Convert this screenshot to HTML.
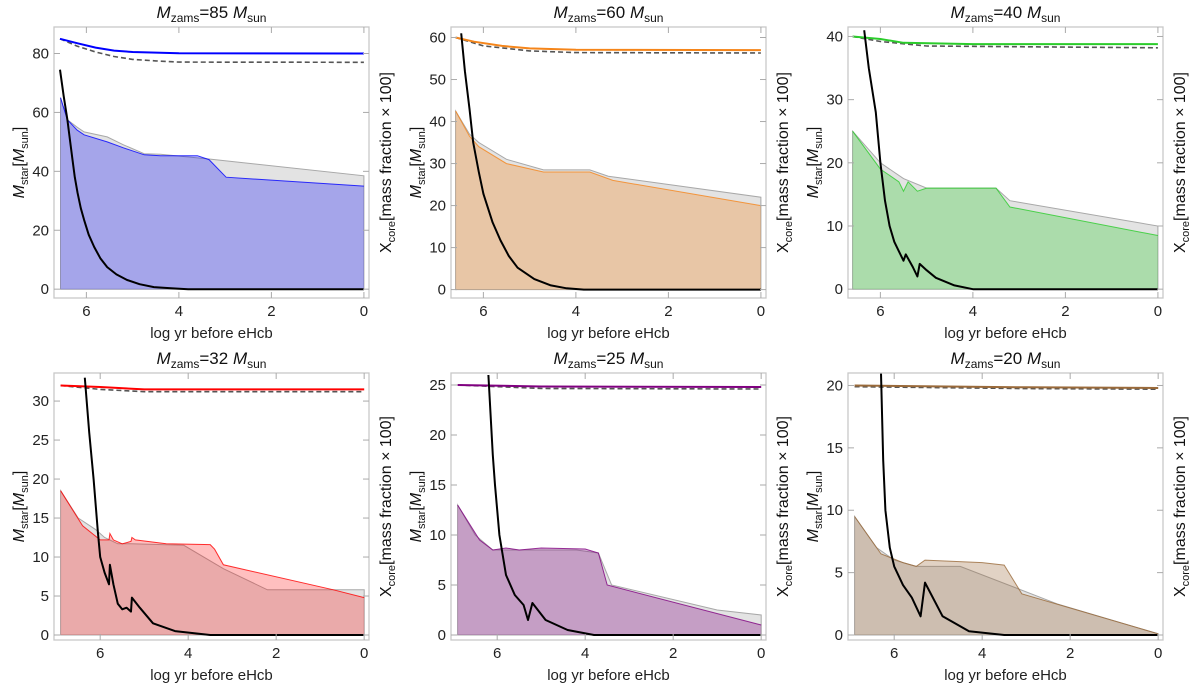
<!DOCTYPE html>
<html><head><meta charset="utf-8"><style>
body{margin:0;background:#fff;}
svg{display:block;font-family:"Liberation Sans",sans-serif;}
</style></head><body>
<svg id="fig" width="1200" height="692" viewBox="0 0 1200 692"></svg>
<script>
// Panel metadata
const titles = ["85","60","40","32","25","20"];
const xStart = [6.7,6.7,6.7,7.05,7.05,7.05];
const yMax = [89,62.5,41.5,33.6,26.2,21];
const yMin = [-3,-2,-1.4,-0.64,-0.5,-0.4];
const yTicks = [[0,20,40,60,80],[0,10,20,30,40,50,60],[0,10,20,30,40],[0,5,10,15,20,25,30],[0,5,10,15,20,25],[0,5,10,15,20]];
const xTicks = [6,4,2,0];
const lineColors = ["#0000ff","#f5851a","#2bcc2b","#ff0000","#800080","#9a6a3a"];
const fillOpacity = [0.27,0.3,0.3,0.25,0.3,0.3];
// Series: [x,y] pairs per panel
const topLine = [
 [[6.57,85],[6.2,83.5],[5.8,82],[5.4,81],[5,80.5],[4,80.1],[0,80]],
 [[6.6,60],[6.2,59],[5.6,58],[5,57.4],[4,57.1],[0,57]],
 [[6.6,40],[6,39.6],[5.5,39],[4,38.8],[0,38.8]],
 [[6.9,32],[6,31.8],[5,31.5],[0,31.5]],
 [[6.9,25],[5,24.85],[0,24.8]],
 [[6.9,20],[3,19.85],[0,19.8]]
];
const dashLine = [
 [[6.57,85],[6.2,82.5],[5.8,80.5],[5.4,79],[5,78],[4.5,77.5],[4,77.1],[0,77]],
 [[6.6,60],[6,58],[5,56.8],[4,56.4],[0,56.3]],
 [[6.6,40],[6,39.2],[5,38.5],[0,38.2]],
 [[6.9,32],[6,31.5],[5,31.2],[0,31.2]],
 [[6.9,25],[5,24.65],[0,24.6]],
 [[6.9,19.9],[3,19.75],[0,19.7]]
];
const greyFill = [
 [[6.56,65],[6.41,57.5],[6.2,55],[6.05,53.4],[5.55,51.7],[5.2,49],[4.75,46],[4.4,45.8],[3.35,44.2],[0,38.5]],
 [[6.6,42.5],[6.3,37],[6.1,35],[5.5,31],[4.7,28.5],[3.7,28.5],[3.3,27],[0,22]],
 [[6.6,25],[6.0,20],[5.5,17.5],[5.0,16],[3.5,16],[3.2,14],[0,10]],
 [[6.9,18.5],[6.5,15],[6.1,13.5],[5.9,12.5],[5.6,11.7],[5.3,11.7],[4.1,11.5],[3.2,8.5],[2.2,5.8],[0,5.8]],
 [[6.9,13],[6.5,10],[6.1,8.5],[4.2,8.5],[3.7,8.2],[3.4,5],[1,2.5],[0,2]],
 [[6.9,9.5],[6.4,7],[6.0,6],[5.5,5.5],[4.5,5.5],[2.3,2.5],[0,0.1]]
];
const colorFill = [
 [[6.56,65],[6.41,57.5],[6.2,54],[6.05,52.4],[5.55,50],[5.2,48],[4.75,45.6],[4.4,45.3],[3.6,45.3],[3.35,44],[2.98,38],[0,35]],
 [[6.6,42.5],[6.3,36.5],[6.1,34],[5.5,30],[4.7,28],[3.7,28],[3.2,26],[0,20]],
 [[6.6,25],[6.0,19],[5.6,17],[5.5,15.5],[5.4,17],[5.2,15.5],[5.0,16],[3.5,16],[3.2,13],[0,8.5]],
 [[6.9,18.5],[6.4,14],[6.0,12.2],[5.8,12.2],[5.78,13],[5.7,12.2],[5.5,11.7],[5.3,12],[5.28,12.5],[5.2,12.2],[4.5,11.7],[3.5,11.6],[3.4,11],[3.2,9],[0.7,5.8],[0,4.8]],
 [[6.9,13],[6.4,9.5],[6.1,8.5],[5.8,8.7],[5.5,8.5],[5.0,8.7],[4.0,8.6],[3.7,8.2],[3.5,5],[0,1]],
 [[6.9,9.5],[6.3,6.5],[5.8,5.8],[5.5,5.5],[5.3,6],[4.0,5.8],[3.5,5.6],[3.1,3.3],[0,0.1]]
];
const xcore = [
 [[6.57,74.5],[6.49,65.5],[6.41,57.5],[6.35,50],[6.30,43.9],[6.25,38],[6.19,32.6],[6.12,27.5],[6.05,23.5],[5.95,18.5],[5.83,14.3],[5.7,10.5],[5.55,7.5],[5.35,5],[5.12,3.1],[4.85,1.7],[4.54,0.7],[4.17,0.3],[3.8,0],[0,0]],
 [[6.48,61],[6.4,52],[6.3,43],[6.22,35],[6.1,28],[6.0,22.8],[5.8,16],[5.63,11.7],[5.45,8],[5.26,5.2],[4.9,2.5],[4.54,1],[4.2,0.3],[3.83,0],[0,0]],
 [[6.35,41],[6.25,35],[6.1,28],[6.0,20],[5.9,14],[5.8,10],[5.7,7.5],[5.6,6],[5.5,4.5],[5.45,5.5],[5.3,3.5],[5.2,2],[5.15,4],[5.0,3],[4.8,1.8],[4.4,0.6],[4.0,0],[0,0]],
 [[6.35,33],[6.25,26],[6.15,20],[6.05,13],[6.0,10],[5.9,8],[5.8,6.5],[5.78,9],[5.7,6.5],[5.6,4],[5.5,3.3],[5.4,3.5],[5.3,3],[5.28,4.8],[5.1,3.5],[4.8,1.5],[4.3,0.5],[3.5,0],[0,0]],
 [[6.2,26],[6.1,18],[6.05,15],[5.95,10],[5.8,6],[5.6,4],[5.4,3],[5.3,1.5],[5.2,3.2],[4.9,1.5],[4.4,0.5],[3.8,0],[0,0]],
 [[6.3,21],[6.25,14],[6.2,10],[6.1,7],[6.0,5.5],[5.8,4],[5.6,3],[5.4,1.5],[5.3,4.2],[4.9,1.5],[4.3,0.3],[3.5,0],[0,0]]
];

const NS="http://www.w3.org/2000/svg";
const svg=document.getElementById('fig');
function mk(tag,attrs,parent){const e=document.createElementNS(NS,tag);for(const k in attrs)e.setAttribute(k,attrs[k]);(parent||svg).appendChild(e);return e;}

for(let p=0;p<6;p++){
  const col=p%3,row=Math.floor(p/3);
  const L=54+397*col, R=L+315, T=row?373:27, B=row?640:298;
  const x0=xStart[p], x1=-0.11;
  const sx=v=>L+(x0-v)/(x0-x1)*(R-L);
  const sy=v=>B-(v-yMin[p])/(yMax[p]-yMin[p])*(B-T);
  const g=mk('g',{});
  
  
  const clipId='clip'+p;
  const cp=mk('clipPath',{id:clipId},g);mk('rect',{x:L,y:T,width:R-L,height:B-T},cp);
  const pg=mk('g',{'clip-path':'url(#'+clipId+')'},g);
  const pathOf=pts=>pts.map((q,i)=>(i?'L':'M')+sx(q[0]).toFixed(1)+','+sy(q[1]).toFixed(1)).join('');
  const areaOf=pts=>pathOf(pts)+'L'+sx(pts[pts.length-1][0]).toFixed(1)+','+sy(0).toFixed(1)+'L'+sx(pts[0][0]).toFixed(1)+','+sy(0).toFixed(1)+'Z';
  let e=mk('path',{d:areaOf(greyFill[p]),fill:'#e3e3e3',stroke:'#a8a8a8','stroke-width':1},pg);
  
  
  e=mk('path',{d:areaOf(colorFill[p]),fill:lineColors[p],'fill-opacity':fillOpacity[p],stroke:'none'},pg);
  
  
  e=mk('path',{d:pathOf(colorFill[p]),fill:'none',stroke:lineColors[p],'stroke-width':1,'stroke-opacity':0.8},pg);
  
  
  e=mk('path',{d:pathOf(dashLine[p]),fill:'none',stroke:'#555','stroke-width':1.6,'stroke-dasharray':'5,3'},pg);
  
  
  e=mk('path',{d:pathOf(topLine[p]),fill:'none',stroke:lineColors[p],'stroke-width':2},pg);
  
  
  e=mk('path',{d:pathOf(xcore[p]),fill:'none',stroke:'#000','stroke-width':2,'stroke-linejoin':'round'},pg);
  
  
  e=mk('rect',{x:L,y:T,width:R-L,height:B-T,fill:'none',stroke:'#c8c8c8','stroke-width':1.3},g);
  
  
  yTicks[p].forEach(v=>{
    const y=sy(v);
    mk('line',{x1:L,x2:L+6,y1:y,y2:y,stroke:'#aaa'},g);
    mk('line',{x1:R,x2:R-6,y1:y,y2:y,stroke:'#aaa'},g);
    const t=mk('text',{x:L-5,y:y+5,'text-anchor':'end','font-size':15,fill:'#222'},g);
    t.textContent=v;
    
    
  });
  xTicks.forEach(v=>{
    const x=sx(v);
    mk('line',{x1:x,x2:x,y1:B,y2:B-6,stroke:'#aaa'},g);
    mk('line',{x1:x,x2:x,y1:T,y2:T+6,stroke:'#aaa'},g);
    const t=mk('text',{x:x,y:B+18,'text-anchor':'middle','font-size':15,fill:'#222'},g);
    t.textContent=v;
    
    
  });
  let t=mk('text',{x:(L+R)/2,y:T-9,'text-anchor':'middle','font-size':17,fill:'#111'},g);
  t.innerHTML='<tspan font-style="italic">M</tspan><tspan font-size="12" dy="4">zams</tspan><tspan dy="-4">='+titles[p]+' </tspan><tspan font-style="italic">M</tspan><tspan font-size="12" dy="4">sun</tspan>';
  
  
  t=mk('text',{x:(L+R)/2,y:B+40,'text-anchor':'middle','font-size':15,fill:'#222'},g);
  t.textContent='log yr before eHcb';
  
  
  const cy=(T+B)/2;
  t=mk('text',{x:L-30,y:cy,'text-anchor':'middle','font-size':16,fill:'#111',transform:'rotate(-90 '+(L-30)+' '+cy+')'},g);
  t.innerHTML='<tspan font-style="italic">M</tspan><tspan font-size="11" dy="4">star</tspan><tspan dy="-4">[</tspan><tspan font-style="italic">M</tspan><tspan font-size="11" dy="4">sun</tspan><tspan dy="-4">]</tspan>';
  
  
  t=mk('text',{x:R+22,y:cy,'text-anchor':'middle','font-size':16,fill:'#111',transform:'rotate(-90 '+(R+22)+' '+cy+')'},g);
  t.innerHTML='X<tspan font-size="11" dy="4">core</tspan><tspan dy="-4">[mass fraction × 100]</tspan>';
  
  
}
</script>
</body></html>
